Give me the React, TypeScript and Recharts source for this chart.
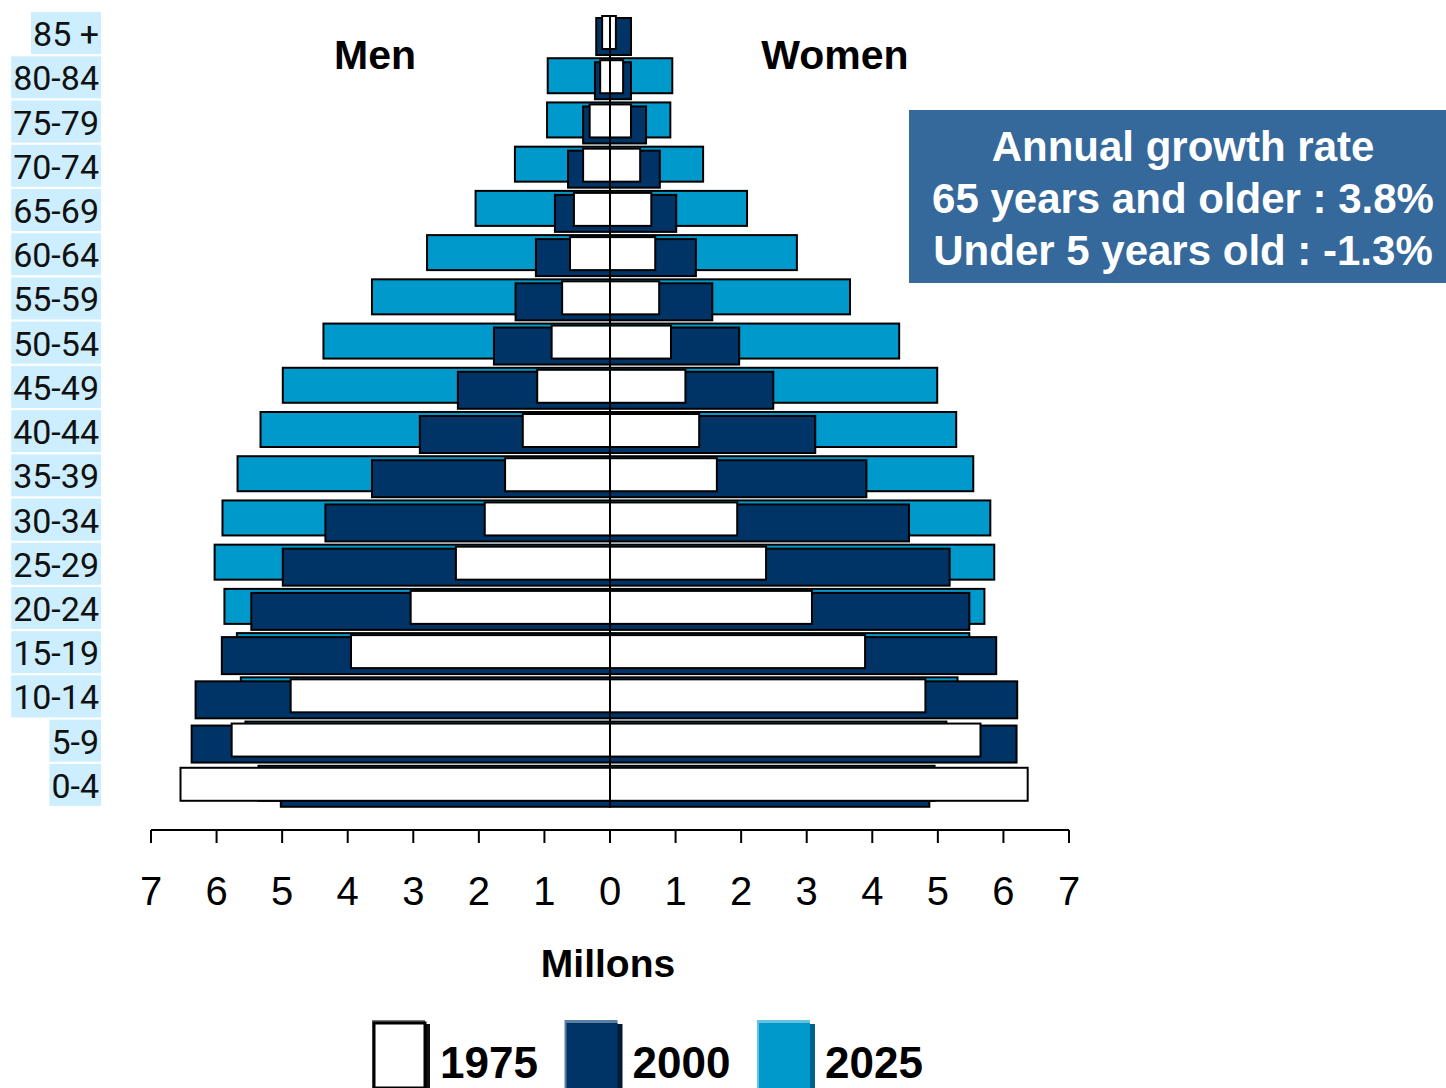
import React from 'react'
import {
  BarChart,
  Bar,
  XAxis,
  YAxis,
  ReferenceLine,
} from 'recharts'

// age groups, top of the pyramid first
const ages = ['85 +', '80-84', '75-79', '70-74', '65-69', '60-64', '55-59', '50-54', '45-49',
  '40-44', '35-39', '30-34', '25-29', '20-24', '15-19', '10-14', '5-9', '0-4']

// millions of people
const men1975 = [0.12, 0.15, 0.31, 0.41, 0.55, 0.61, 0.73, 0.89, 1.11, 1.33, 1.6, 1.91, 2.35, 3.04, 3.95, 4.87, 5.77, 6.55]
const women1975 = [0.09, 0.2, 0.32, 0.46, 0.63, 0.69, 0.75, 0.93, 1.15, 1.36, 1.63, 1.94, 2.38, 3.08, 3.89, 4.81, 5.65, 6.37]
const men2000 = [0.21, 0.23, 0.41, 0.64, 0.84, 1.13, 1.44, 1.77, 2.32, 2.9, 3.63, 4.34, 4.99, 5.47, 5.92, 6.32, 6.38, 5.02]
const women2000 = [0.32, 0.32, 0.55, 0.76, 1.01, 1.31, 1.56, 1.97, 2.49, 3.13, 3.91, 4.56, 5.18, 5.48, 5.89, 6.21, 6.2, 4.87]
const men2025 = [0, 0.95, 0.96, 1.45, 2.05, 2.79, 3.63, 4.37, 4.99, 5.33, 5.68, 5.91, 6.03, 5.88, 5.69, 5.63, 5.56, 5.36]
const women2025 = [0, 0.95, 0.92, 1.42, 2.09, 2.85, 3.66, 4.41, 4.99, 5.28, 5.54, 5.8, 5.86, 5.71, 5.48, 5.3, 5.13, 4.95]

const xTicks = [-7, -6, -5, -4, -3, -2, -1, 0, 1, 2, 3, 4, 5, 6, 7]

const years = ['1975', '2000', '2025']
const yearColors = { '1975': '#ffffff', '2000': '#003366', '2025': '#0099cc' }
const yearLight = { '1975': '#777777', '2000': '#5a7fa6', '2025': '#66c2e3' }
const yearDark = { '1975': '#111111', '2000': '#001a33', '2025': '#00628a' }

const growthLines = ['Annual growth rate', '65 years and older : 3.8%', 'Under 5 years old : -1.3%']

const data = ages.map((age, i) => ({
  age,
  m1975: -men1975[i],
  w1975: women1975[i],
  m2000: -men2000[i],
  w2000: women2000[i],
  m2025: -men2025[i],
  w2025: women2025[i],
}))

const BOLD = '"Liberation Sans", Arial, sans-serif'
const LABEL_FONT = '34px Roboto'

let ctx: CanvasRenderingContext2D | null = null
function textWidth(s: string) {
  if (!ctx) ctx = document.createElement('canvas').getContext('2d')
  if (!ctx) return s.length * 17
  ctx.font = LABEL_FONT
  return ctx.measureText(s).width
}

// each year sits a little higher / lower inside its row
const makeShape = (top: number, h: number) => (props: any) => {
  const { x, y, width, height, fill } = props
  const w = Math.abs(width)
  if (!w || w < 0.5) return <g />
  const x0 = width < 0 ? x + width : x
  const cy = y + height / 2
  return <rect x={x0} y={cy + top} width={w} height={h} fill={fill} stroke="#000" strokeWidth={2} />
}

const shape2025 = makeShape(-19, 35)
const shape2000 = makeShape(-15, 37)
const shape1975 = makeShape(-17, 33)

const AgeTick = (props: any) => {
  const { x, y, payload } = props
  const w = textWidth(payload.value) + 4
  return (
    <g>
      <rect x={x - w} y={y - 21} width={w} height={42} fill="#cceeff" />
      <text x={x - 2} y={y + 1} textAnchor="end" dominantBaseline="central"
        style={{ font: LABEL_FONT, fill: '#111' }}>
        {payload.value}
      </text>
    </g>
  )
}

export default function App() {
  return (
    <div style={{ position: 'absolute', left: 0, top: 0, width: 1446, height: 1088, background: '#fff', overflow: 'hidden' }}>
      <BarChart
        width={1446}
        height={1088}
        data={data}
        layout="vertical"
        stackOffset="sign"
        barSize={34}
        barGap={-34}
        margin={{ top: 11, right: 377, bottom: 0, left: 0 }}
      >
        <XAxis
          type="number"
          domain={[-7, 7]}
          ticks={xTicks}
          tickFormatter={(v: number) => String(Math.abs(v))}
          axisLine={{ stroke: '#000', strokeWidth: 2 }}
          tickLine={{ stroke: '#000', strokeWidth: 2 }}
          tickSize={13}
          tickMargin={34}
          height={258}
          tick={{ fontSize: 40, fill: '#000', fontFamily: BOLD }}
          allowDataOverflow
        />
        <YAxis
          type="category"
          dataKey="age"
          width={151}
          axisLine={false}
          tickLine={false}
          tickSize={0}
          tickMargin={50}
          padding={{ top: 0, bottom: 23 }}
          interval={0}
          tick={<AgeTick />}
        />
        <Bar dataKey="m2025" stackId="y2025" fill={yearColors['2025']} shape={shape2025} isAnimationActive={false} />
        <Bar dataKey="w2025" stackId="y2025" fill={yearColors['2025']} shape={shape2025} isAnimationActive={false} />
        <Bar dataKey="m2000" stackId="y2000" fill={yearColors['2000']} shape={shape2000} isAnimationActive={false} />
        <Bar dataKey="w2000" stackId="y2000" fill={yearColors['2000']} shape={shape2000} isAnimationActive={false} />
        <Bar dataKey="m1975" stackId="y1975" fill={yearColors['1975']} shape={shape1975} isAnimationActive={false} />
        <Bar dataKey="w1975" stackId="y1975" fill={yearColors['1975']} shape={shape1975} isAnimationActive={false} />
        <ReferenceLine
          segment={[{ x: 0, y: ages[0] }, { x: 0, y: ages[ages.length - 1] }]}
          stroke="#000"
          strokeWidth={2}
        />
      </BarChart>

      <svg width={1446} height={1088} style={{ position: 'absolute', left: 0, top: 0, pointerEvents: 'none' }}>
        <text x={375} y={69} textAnchor="middle" style={{ fontFamily: BOLD, fontWeight: 700, fontSize: 41 }}>Men</text>
        <text x={835} y={69} textAnchor="middle" style={{ fontFamily: BOLD, fontWeight: 700, fontSize: 41 }}>Women</text>

        <rect x={909} y={110} width={537} height={173} fill="#35689b" />
        {growthLines.map((line, i) => (
          <text key={line} x={1183} y={161 + i * 52} textAnchor="middle" fill="#fff"
            style={{ fontFamily: BOLD, fontWeight: 700, fontSize: 42 }}>
            {line}
          </text>
        ))}

        <text x={608} y={977} textAnchor="middle" style={{ fontFamily: BOLD, fontWeight: 700, fontSize: 39 }}>Millons</text>

        {years.map((yr, i) => {
          const x = 374 + i * 192.5
          return (
            <g key={yr}>
              <rect x={x - 2} y={1020} width={53} height={68} fill={yearLight[yr]} />
              <rect x={x + 3} y={1024} width={53} height={64} fill={yearDark[yr]} />
              <rect x={x} y={1023} width={51} height={65} fill={yearColors[yr]}
                stroke={yr === '1975' ? '#000' : 'none'} strokeWidth={3} />
              <text x={x + 66} y={1078} style={{ fontFamily: BOLD, fontWeight: 700, fontSize: 44 }}>{yr}</text>
            </g>
          )
        })}
      </svg>
    </div>
  )
}
